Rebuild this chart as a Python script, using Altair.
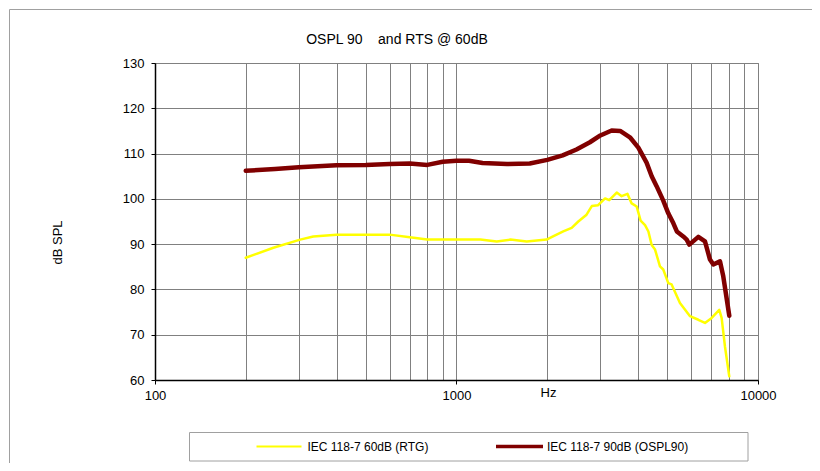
import altair as alt
import pandas as pd

# ---- data ----
freq_ospl = [200, 250, 300, 400, 500, 600, 700, 800, 900, 1000, 1100, 1220, 1470, 1750,
             2000, 2250, 2500, 2770, 3000, 3270, 3490, 3760, 4010, 4270, 4440, 4610,
             4850, 5040, 5240, 5380, 5650, 5800, 5920, 6340, 6670, 6930, 7110, 7480,
             7670, 8030]
db_ospl = [106.2, 106.6, 107.0, 107.4, 107.5, 107.7, 107.8, 107.5, 108.2, 108.4, 108.4,
           107.9, 107.7, 107.8, 108.6, 109.6, 110.9, 112.5, 114.0, 115.1, 115.0, 113.6,
           111.3, 108.0, 105.0, 102.8, 99.6, 96.8, 94.6, 92.8, 91.7, 91.0, 89.9, 91.6,
           90.6, 86.6, 85.5, 86.2, 82.9, 74.2]

freq_rtg = [200, 247, 303, 335, 400, 500, 600, 700, 800, 1000, 1200, 1360, 1510, 1710,
            1990, 2090, 2260, 2410, 2535, 2700, 2810, 2950, 3110, 3210, 3400, 3530,
            3690, 3810, 3960, 4080, 4220, 4330, 4440, 4555, 4730, 4850, 5040, 5170,
            5510, 5950, 6340, 6670, 7020, 7440, 7575, 7770, 8030]
db_rtg = [87.0, 89.2, 91.0, 91.7, 92.1, 92.1, 92.1, 91.5, 91.0, 91.0, 91.0, 90.6, 91.0,
          90.6, 91.0, 91.7, 92.8, 93.6, 95.0, 96.5, 98.4, 98.6, 100.1, 99.7, 101.4,
          100.6, 101.1, 99.0, 98.3, 95.2, 94.2, 92.8, 89.8, 88.8, 85.1, 84.4, 81.4,
          81.1, 77.0, 74.1, 73.3, 72.6, 73.7, 75.5, 73.7, 67.4, 60.8]

series = ["IEC 118-7 60dB (RTG)", "IEC 118-7 90dB (OSPL90)"]
colors = ["#FFFF00", "#800000"]
widths = [2.5, 4.5]

x_grid = [100, 200, 300, 400, 500, 600, 700, 800, 900, 1000,
          2000, 3000, 4000, 5000, 6000, 7000, 8000, 9000, 10000]
x_labels = [100, 1000, 10000]
y_ticks = [60, 70, 80, 90, 100, 110, 120, 130]

title_text = "OSPL 90\u00a0\u00a0\u00a0 and RTS @ 60dB"
FONT = "Liberation Sans"

df = pd.concat([
    pd.DataFrame({"freq": freq_rtg, "db": db_rtg, "series": series[0]}),
    pd.DataFrame({"freq": freq_ospl, "db": db_ospl, "series": series[1]}),
], ignore_index=True)

W, H = 603, 317
OX, OY = 155, 63   # page position of the plot origin

def px(x):
    return x - OX

def py(y):
    return y - OY

label_test = " || ".join(f"datum.value == {v}" for v in x_labels)

x_axis = alt.Axis(
    values=x_grid, format="d",
    labelExpr=f"({label_test}) ? datum.label : ''",
    labelFlush=False, labelOverlap=False,
    grid=True, gridColor="#808080", gridWidth=1,
    ticks=True, tickSize=4, tickColor="black",
    tickOpacity={"condition": {"test": label_test, "value": 1}, "value": 0},
    domainColor="black", domainWidth=1.5,
    labelFont=FONT, labelFontSize=13, labelColor="black", labelPadding=5,
    title="Hz", titleX=px(548), titleY=12, titleBaseline="middle", titleAlign="center",
    titleFont=FONT, titleFontSize=13, titleFontWeight="normal", titleColor="black",
)

y_axis = alt.Axis(
    values=y_ticks, grid=True, gridColor="#808080", gridWidth=1,
    tickSize=4, tickColor="black", domainColor="black", domainWidth=1.5,
    labelFont=FONT, labelFontSize=13, labelColor="black", labelPadding=7,
    title="dB SPL", titleX=px(57), titleY=py(242), titleAngle=-90,
    titleAlign="center", titleBaseline="middle",
    titleFont=FONT, titleFontSize=13, titleFontWeight="normal", titleColor="black",
)

lines = alt.Chart(df).mark_line(strokeJoin="round", strokeCap="round").encode(
    x=alt.X("freq:Q", scale=alt.Scale(type="log", domain=[100, 10000], nice=False), axis=x_axis),
    y=alt.Y("db:Q", scale=alt.Scale(domain=[60, 130], nice=False, zero=False), axis=y_axis),
    color=alt.Color("series:N", scale=alt.Scale(domain=series, range=colors), legend=None),
    strokeWidth=alt.StrokeWidth("series:N", scale=alt.Scale(domain=series, range=widths), legend=None),
)

one = pd.DataFrame({"k": [0]})

frame_top = alt.Chart(one).mark_rule(color="#a0a0a0", strokeWidth=1).encode(
    x=alt.value(px(9.5)), x2=alt.value(px(820)), y=alt.value(py(9.5)))
frame_left = alt.Chart(one).mark_rule(color="#a0a0a0", strokeWidth=1).encode(
    x=alt.value(px(9.5)), y=alt.value(py(9.5)), y2=alt.value(py(471)))

title = alt.Chart(one).mark_text(font=FONT, fontSize=14, color="black",
                                 align="center", baseline="middle").encode(
    x=alt.value(px(397)), y=alt.value(py(40)), text=alt.value(title_text))

legend_box = alt.Chart(one).mark_rect(fill="white", stroke="#a0a0a0", strokeWidth=1).encode(
    x=alt.value(px(189.5)), x2=alt.value(px(748)), y=alt.value(py(432.5)), y2=alt.value(py(461)))
leg_line1 = alt.Chart(one).mark_rule(color=colors[0], strokeWidth=2).encode(
    x=alt.value(px(256.5)), x2=alt.value(px(301.5)), y=alt.value(py(446.5)))
leg_text1 = alt.Chart(one).mark_text(font=FONT, fontSize=12, color="black",
                                     align="left", baseline="middle").encode(
    x=alt.value(px(307.5)), y=alt.value(py(446.5)), text=alt.value(series[0]))
leg_line2 = alt.Chart(one).mark_rule(color=colors[1], strokeWidth=3.5).encode(
    x=alt.value(px(496)), x2=alt.value(px(543)), y=alt.value(py(446.5)))
leg_text2 = alt.Chart(one).mark_text(font=FONT, fontSize=12, color="black",
                                     align="left", baseline="middle").encode(
    x=alt.value(px(547)), y=alt.value(py(446.5)), text=alt.value(series[1]))

chart = alt.layer(
    frame_top, frame_left, legend_box, leg_line1, leg_text1, leg_line2, leg_text2, title, lines
).properties(
    width=W, height=H,
    padding={"left": OX - 8, "top": OY - 8, "right": 820 - 16 - W - (OX - 8), "bottom": 471 - 16 - H - (OY - 8)},
    autosize=alt.AutoSizeParams(type="none"),
).configure(font=FONT, background="white").configure_view(stroke="#808080", strokeWidth=1)

chart.save("out.html", embed_options={"renderer": "svg", "actions": False})
